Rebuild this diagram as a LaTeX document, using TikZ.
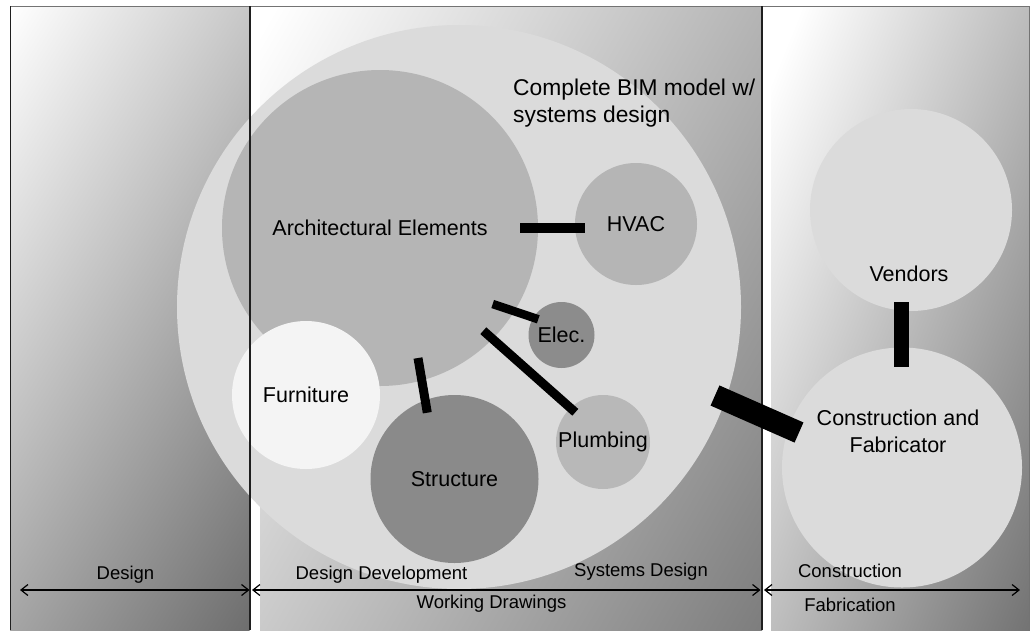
\documentclass[tikz,border=0pt]{standalone}
\usepackage{fontspec}
\setmainfont{Liberation Sans}
\usetikzlibrary{arrows.meta}
\definecolor{leftend}{gray}{0.43}
\definecolor{midend}{gray}{0.49}
\definecolor{rightend}{gray}{0.45}
\definecolor{bimc}{gray}{0.86}
\definecolor{archc}{gray}{0.71}
\definecolor{elecc}{gray}{0.55}
\definecolor{plumbc}{gray}{0.72}
\definecolor{furnc}{gray}{0.955}
\definecolor{strucc}{gray}{0.54}
\definecolor{framec}{gray}{0.45}
\definecolor{sepc}{gray}{0.12}
\pgfdeclarehorizontalshading{leftpanel}{100bp}{color(0bp)=(white); color(25bp)=(white); color(75bp)=(leftend); color(100bp)=(leftend)}
\pgfdeclarehorizontalshading{midpanel}{100bp}{color(0bp)=(white); color(26bp)=(white); color(75bp)=(midend); color(100bp)=(midend)}
\pgfdeclarehorizontalshading{rightpanel}{100bp}{color(0bp)=(white); color(28bp)=(white); color(75bp)=(rightend); color(100bp)=(rightend)}
\tikzset{
  circ/.style={circle, draw=none, inner sep=0pt, text=black, font=\fontsize{21.5}{25}\selectfont},
  ctext/.style={inner sep=0pt, text=black, font=\fontsize{21.5}{27}\selectfont},
  bar/.style={line width=#1, draw=black, line cap=butt},
  lbl/.style={font=\fontsize{18.5}{22}\selectfont, inner sep=0pt, text=black},
  span/.style={{Straight Barb[length=7pt,width=11pt,line width=1.2pt]}-{Straight Barb[length=7pt,width=11pt,line width=1.2pt]}, line width=1.2pt, draw=black},
}
\begin{document}
\begin{tikzpicture}[x=1pt,y=-1pt]
\useasboundingbox (0,0) rectangle (1030,630);
\fill[white] (0,0) rectangle (1030,630);
% gradient panels
\begin{scope}
  \clip (10,6) rectangle (250,630);
  \shade[shading=leftpanel, transform canvas={rotate around={-32:(130,318)}}] (130-267,318-700) rectangle (130+267,318+700);
\end{scope}
\begin{scope}
  \clip (260,6) rectangle (762,630);
  \shade[shading=midpanel, transform canvas={rotate around={-30:(511,318)}}] (511-375,318-900) rectangle (511+375,318+900);
\end{scope}
\begin{scope}
  \clip (771,6) rectangle (1030,630);
  \shade[shading=rightpanel, transform canvas={rotate around={-22:(900.5,318)}}] (900.5-237,318-700) rectangle (900.5+237,318+700);
\end{scope}
% circles
\node[circ, fill=bimc, minimum size=564pt] (bim) at (459,307) {};
\node[circ, fill=archc, minimum size=316pt] (arch) at (380,228) {Architectural Elements};
\node[circ, fill=archc, minimum size=122pt] (hvac) at (636,224) {HVAC};
\node[circ, fill=elecc, minimum size=66pt] (elec) at (561.5,335) {Elec.};
\node[circ, fill=plumbc, minimum size=94pt] (plumb) at (603,442) {Plumbing};
\node[circ, fill=furnc, minimum size=148pt] (furn) at (306,395) {Furniture};
\node[circ, fill=strucc, minimum size=168pt] (struc) at (454.5,479) {Structure};
\node[circ, fill=bimc, minimum size=202pt] (vend) at (911,210) {};
\node[circ, fill=bimc, minimum size=240pt] (cons) at (902,467.5) {};
% frame and separators
\draw[framec, line width=1.5pt] (10,6.5) -- (1030,6.5);
\draw[framec, line width=1pt] (1029,6) -- (1029,630);
\draw[sepc, line width=1pt] (10,6) -- (10,630);
\draw[sepc, line width=1.3pt] (250,6) -- (250,630);
\draw[sepc, line width=1.3pt] (762,6) -- (762,630);
% connector bars
\coordinate (ah1) at (520,228);  \coordinate (ah2) at (585,228);
\coordinate (ae1) at (492.7,304); \coordinate (ae2) at (538.3,319.3);
\coordinate (ap1) at (483.3,330.7); \coordinate (ap2) at (575.3,412.3);
\coordinate (as1) at (418,358); \coordinate (as2) at (427.3,412.7);
\coordinate (bc1) at (715,395.5); \coordinate (bc2) at (799,432.5);
\coordinate (vc1) at (901,302); \coordinate (vc2) at (901,367);
\draw[bar=10pt] (ah1) -- (ah2);
\draw[bar=8.5pt] (ae1) -- (ae2);
\draw[bar=9pt] (ap1) -- (ap2);
\draw[bar=9pt] (as1) -- (as2);
\draw[bar=22pt] (bc1) -- (bc2);
\draw[bar=15pt] (vc1) -- (vc2);
% off-centre circle labels
\node[ctext, anchor=west, align=left, font=\fontsize{22.8}{27}\selectfont] (bimlbl) at (513,103.5) {Complete BIM model w/\\systems design};
\node[ctext] (vendlbl) at (909,274) {Vendors};
\node[ctext, align=center] (conslbl) at (898,431) {Construction and\\Fabricator};
% spans
\coordinate (d1) at (20,590); \coordinate (d2) at (249.5,590);
\coordinate (w1) at (252,590); \coordinate (w2) at (760.5,590);
\coordinate (c1) at (764,590); \coordinate (c2) at (1020,590);
\draw[span] (d1) -- (d2);
\draw[span] (w1) -- (w2);
\draw[span] (c1) -- (c2);
\node[lbl] (ldesign) at (125.5,575) {Design};
\node[lbl] (ldd) at (381.5,575) {Design Development};
\node[lbl] (lsd) at (641,572) {Systems Design};
\node[lbl] (lwd) at (491.5,604) {Working Drawings};
\node[lbl] (lcon) at (850,571) {Construction};
\node[lbl] (lfab) at (850,605) {Fabrication};
\end{tikzpicture}
\end{document}
